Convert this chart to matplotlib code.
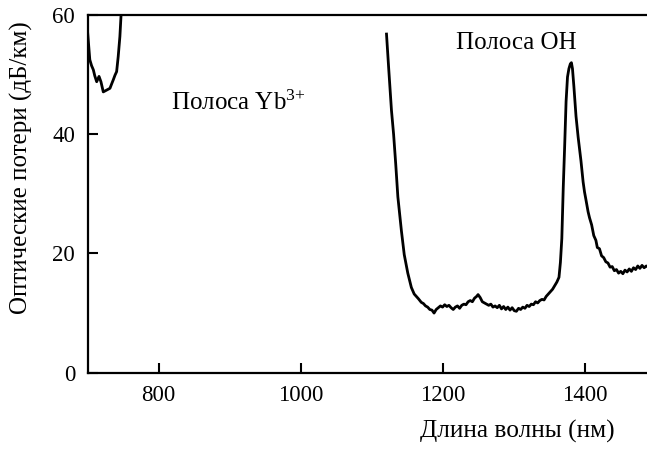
import matplotlib
matplotlib.use("Agg")
import matplotlib.pyplot as plt

# --- data (wavelength nm, loss dB/km) ---
yb_wl = [700, 701, 703, 705.5, 708, 710, 712.7, 716, 718.7, 722, 726.7,
         731.4, 734, 736, 738.5, 740.8, 743, 745.4, 747.5]
yb_loss = [57.0, 55.5, 52.5, 51.5, 50.8, 49.8, 48.8, 49.7, 48.8, 47.1, 47.4,
           47.7, 48.5, 49.1, 49.9, 50.5, 53.0, 56.4, 61.0]

oh_wl = [1121, 1124, 1128, 1131, 1134, 1137, 1142, 1146, 1151, 1156, 1160,
         1163, 1166, 1170, 1173, 1176, 1179, 1182, 1185, 1188, 1191, 1194,
         1197, 1200, 1203, 1206, 1209, 1212, 1215, 1218, 1221, 1224, 1227,
         1230, 1233, 1236, 1239, 1242, 1245, 1248, 1250, 1253, 1256, 1259,
         1262, 1265, 1268, 1271, 1274, 1277, 1280, 1283, 1286, 1289, 1292,
         1295, 1298, 1301, 1304, 1307, 1310, 1313, 1316, 1319, 1322, 1325,
         1328, 1331, 1334, 1337, 1340, 1343, 1346, 1349, 1352, 1355, 1358,
         1361, 1364, 1366, 1368, 1370, 1372, 1374, 1376, 1378, 1380, 1381.5,
         1383, 1385, 1388, 1391, 1395, 1398, 1400, 1402, 1405, 1407, 1410,
         1413, 1416, 1418, 1421, 1424, 1427, 1430, 1433, 1436, 1439, 1442,
         1445, 1448, 1451, 1454, 1457, 1460, 1463, 1466, 1469, 1472, 1475,
         1478, 1481, 1484, 1487, 1490]
oh_loss = [56.8, 51.2, 44.0, 40.0, 35.0, 29.5, 23.8, 19.8, 16.7, 14.3, 13.2,
           12.8, 12.4, 11.8, 11.6, 11.2, 11.0, 10.6, 10.5, 10.0, 10.6, 10.9,
           11.2, 11.0, 11.4, 11.1, 11.3, 10.9, 10.6, 11.0, 11.2, 10.8, 11.3,
           11.5, 11.4, 11.9, 12.1, 11.9, 12.5, 12.8, 13.1, 12.6, 11.9, 11.7,
           11.5, 11.3, 11.5, 11.0, 11.2, 10.9, 11.3, 10.7, 11.1, 10.6, 11.0,
           10.5, 10.9, 10.4, 10.3, 10.8, 10.6, 11.0, 10.8, 11.3, 11.1, 11.5,
           11.4, 11.9, 11.7, 12.1, 12.3, 12.2, 12.8, 13.2, 13.6, 14.0, 14.6,
           15.2, 16.0, 18.5, 22.5, 31.0, 38.0, 45.5, 49.6, 51.0, 51.8, 52.0,
           51.0, 48.0, 43.0, 39.5, 35.5, 32.0, 30.3, 29.0, 27.0, 26.0, 24.8,
           23.0, 22.2, 21.0, 20.8, 19.6, 19.3, 18.6, 18.4, 17.7, 17.8, 17.1,
           17.3, 16.7, 17.0, 16.6, 17.2, 16.9, 17.4, 17.0, 17.6, 17.3, 17.9,
           17.5, 18.0, 17.6, 17.9, 17.7]

x_ticks = [800, 1000, 1200, 1400]
y_ticks = [0, 20, 40, 60]

plt.rcParams["font.family"] = ["Liberation Serif", "DejaVu Serif"]
plt.rcParams["mathtext.fontset"] = "custom"
plt.rcParams["mathtext.rm"] = "Liberation Serif"
plt.rcParams["mathtext.default"] = "regular"

fig = plt.figure(figsize=(6.47, 4.5), dpi=100)
ax = fig.add_axes([0.1355, 0.1718, 0.8645, 0.7949])

ax.plot(yb_wl, yb_loss, color="black", lw=2.0, solid_joinstyle="round")
ax.plot(oh_wl, oh_loss, color="black", lw=2.0, solid_joinstyle="round")

ax.set_xlim(700, 1488)
ax.set_ylim(0, 60)
ax.set_xticks(x_ticks)
ax.set_yticks(y_ticks)
ax.tick_params(direction="in", length=7, width=1.5, labelsize=16.5, pad=9)
ax.spines["right"].set_visible(False)
for s in ("left", "bottom", "top"):
    ax.spines[s].set_linewidth(1.6)

ax.set_xlabel("Длина волны (нм)", fontsize=18.3)
ax.xaxis.set_label_coords(0.768, -0.132)
ax.set_ylabel("Оптические потери (дБ/км)", fontsize=18)
ax.yaxis.set_label_coords(-0.097, 0.572)

ax.text(818, 44.1, "Полоса Yb$^{3{+}}$", fontsize=18, ha="left", va="baseline")
ax.text(1219, 54.3, "Полоса ОН", fontsize=18, ha="left", va="baseline")

fig.savefig("out.png", dpi=100)
